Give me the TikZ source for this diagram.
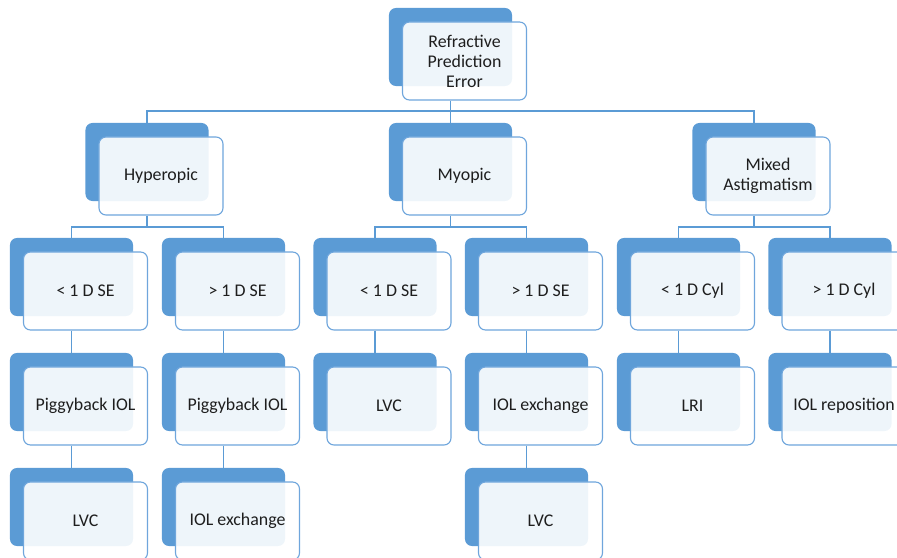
\documentclass[tikz,border=0pt]{standalone}
\usepackage{fontspec}
\setmainfont{Carlito}
\usetikzlibrary{backgrounds,positioning}
\definecolor{boxblue}{HTML}{5B9BD5}
\definecolor{edgeblue}{HTML}{6FA6DC}
\definecolor{txt}{HTML}{1E1E1E}

\begin{document}
\begin{tikzpicture}[x=0.025cm,y=-0.025cm,
    back/.style={rectangle,rounded corners=5pt,fill=boxblue,minimum width=3.075cm,minimum height=1.95cm,inner sep=0pt},
    front/.style={rectangle,rounded corners=5pt,draw=edgeblue,line width=0.8pt,fill=white,fill opacity=0.9,text opacity=1,text=txt,minimum width=3.1cm,minimum height=1.95cm,inner sep=0pt,align=center,font=\fontsize{12.7}{14.2}\selectfont},
    link/.style={draw=boxblue,line width=0.8pt}]
\useasboundingbox (0,0) rectangle (897,558);
% top
\node[back] (top) at (450.5,47) {};
\node[front] (topf) at (464.5,61) {Refractive\\Prediction\\Error};
% second row
\node[back] (hyp) at (147,162) {};
\node[front] (hypf) at (161,176) {Hyperopic};
\node[back] (myo) at (450.5,162) {};
\node[front] (myof) at (464.5,176) {Myopic};
\node[back] (mix) at (754,162) {};
\node[front] (mixf) at (768,176) {Mixed\\Astigmatism};
% third row
\node[back] (hlo) at (71.5,277) {};
\node[front] (hlof) at (85.5,291) {< 1 D SE};
\node[back] (hhi) at (223.5,277) {};
\node[front] (hhif) at (237.5,291) {> 1 D SE};
\node[back] (mlo) at (375,277) {};
\node[front] (mlof) at (389,291) {< 1 D SE};
\node[back] (mhi) at (526.5,277) {};
\node[front] (mhif) at (540.5,291) {> 1 D SE};
\node[back] (xlo) at (678.5,277) {};
\node[front] (xlof) at (692.5,291) {< 1 D Cyl};
\node[back] (xhi) at (830,277) {};
\node[front] (xhif) at (844,291) {> 1 D Cyl};
% fourth row
\node[back] (hpig) at (71.5,392) {};
\node[front] (hpigf) at (85.5,406) {Piggyback IOL};
\node[back] (hpig2) at (223.5,392) {};
\node[front] (hpig2f) at (237.5,406) {Piggyback IOL};
\node[back] (mlvc) at (375,392) {};
\node[front] (mlvcf) at (389,406) {LVC};
\node[back] (mexc) at (526.5,392) {};
\node[front] (mexcf) at (540.5,406) {IOL exchange};
\node[back] (lri) at (678.5,392) {};
\node[front] (lrif) at (692.5,406) {LRI};
\node[back] (repo) at (830,392) {};
\node[front] (repof) at (844,406) {IOL reposition};
% fifth row
\node[back] (hlvc) at (71.5,507) {};
\node[front] (hlvcf) at (85.5,521) {LVC};
\node[back] (hexc) at (223.5,507) {};
\node[front] (hexcf) at (237.5,521) {IOL exchange};
\node[back] (mlvc2) at (526.5,507) {};
\node[front] (mlvc2f) at (540.5,521) {LVC};
% connectors
\coordinate (bus1) at (0,111);
\coordinate (bus2) at (0,227);
\begin{pgfonlayer}{background}
\draw[link] (topf.south -| top) -- (myo.north);
\draw[link] (hyp.north) |- (mix.north |- bus1) -- (mix.north);
\draw[link] (hypf.south -| hyp) -- (hyp |- bus2);
\draw[link] (hlo.north) |- (hhi.north |- bus2) -- (hhi.north);
\draw[link] (myof.south -| myo) -- (myo |- bus2);
\draw[link] (mlo.north) |- (mhi.north |- bus2) -- (mhi.north);
\draw[link] (mixf.south -| mix) -- (mix |- bus2);
\draw[link] (xlo.north) |- (xhi.north |- bus2) -- (xhi.north);
\draw[link] (hlof.south -| hlo) -- (hpig.north);
\draw[link] (hhif.south -| hhi) -- (hpig2.north);
\draw[link] (mlof.south -| mlo) -- (mlvc.north);
\draw[link] (mhif.south -| mhi) -- (mexc.north);
\draw[link] (xlof.south -| xlo) -- (lri.north);
\draw[link] (xhif.south -| xhi) -- (repo.north);
\draw[link] (hpigf.south -| hpig) -- (hlvc.north);
\draw[link] (hpig2f.south -| hpig2) -- (hexc.north);
\draw[link] (mexcf.south -| mexc) -- (mlvc2.north);
\end{pgfonlayer}
\end{tikzpicture}
\end{document}
